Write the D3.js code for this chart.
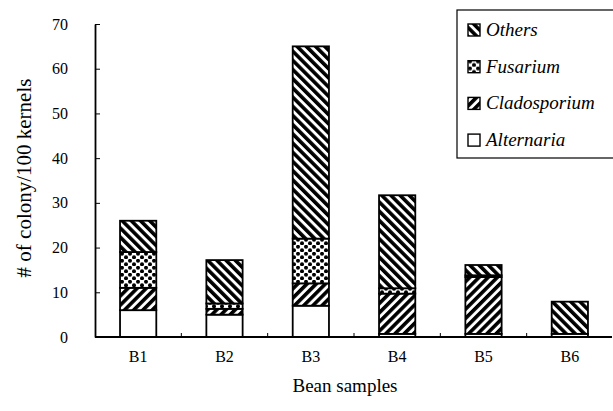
<!DOCTYPE html>
<html>
<head>
<meta charset="utf-8">
<script src="https://cdn.jsdelivr.net/npm/d3@7"></script>
<style>
  body { margin: 0; background: #fff; }
</style>
</head>
<body>
<div id="chart"></div>
<script>
// data (colonies per 100 kernels)
var samples = ["B1", "B2", "B3", "B4", "B5", "B6"];
var alternaria   = [6, 5, 7, 0.7, 0.7, 0.7];
var cladosporium = [5, 1.3, 5, 9, 12.7, 0];
var fusarium     = [8, 1.2, 10, 1.2, 0.4, 0];
var others       = [7, 9.7, 43, 20.8, 2.3, 7.2];
var seriesNames  = ["Alternaria", "Cladosporium", "Fusarium", "Others"];
var legendOrder  = ["Others", "Fusarium", "Cladosporium", "Alternaria"];
var yTicks = [0, 10, 20, 30, 40, 50, 60, 70];

var width = 613, height = 411;
var serif = "'Liberation Serif', 'DejaVu Serif', serif";

var rows = samples.map(function(s, i) {
  return { sample: s, Alternaria: alternaria[i], Cladosporium: cladosporium[i],
           Fusarium: fusarium[i], Others: others[i] };
});

var svg = d3.select("#chart")
  .append("svg")
    .attr("width", width)
    .attr("height", height);

// fill patterns
var defs = svg.append("defs");

function hatch(id, angle) {
  var p = defs.append("pattern")
      .attr("id", id)
      .attr("patternUnits", "userSpaceOnUse")
      .attr("width", 6.5).attr("height", 6.5)
      .attr("patternTransform", "rotate(" + angle + ")");
  p.append("rect").attr("width", 6.5).attr("height", 6.5).attr("fill", "#fff");
  p.append("rect").attr("width", 3.6).attr("height", 6.5).attr("fill", "#000");
}
hatch("pat-others", -45);
hatch("pat-clado", 45);

var dots = defs.append("pattern")
    .attr("id", "pat-fus")
    .attr("patternUnits", "userSpaceOnUse")
    .attr("width", 8).attr("height", 7);
dots.append("rect").attr("width", 8).attr("height", 7).attr("fill", "#fff");
[[2, 1.8], [6, 5.3]].forEach(function(c) {
  dots.append("circle").attr("cx", c[0]).attr("cy", c[1]).attr("r", 2).attr("fill", "#000");
});

var fills = {
  Alternaria: "#fff",
  Cladosporium: "url(#pat-clado)",
  Fusarium: "url(#pat-fus)",
  Others: "url(#pat-others)"
};

// scales
var x = d3.scaleBand()
    .domain(samples)
    .range([95, 613])
    .paddingInner(0.58)
    .paddingOuter(0.29);

var y = d3.scaleLinear()
    .domain([0, 70])
    .range([337, 24]);

var stacked = d3.stack().keys(seriesNames)(rows);

// bars
svg.selectAll("g.layer")
  .data(stacked)
  .enter()
  .append("g")
    .attr("class", "layer")
    .attr("fill", function(d) { return fills[d.key]; })
  .selectAll("rect")
  .data(function(d) { return d.filter(function(v) { return v[1] - v[0] > 0; }); })
  .enter()
  .append("rect")
    .attr("x", function(d) { return x(d.data.sample); })
    .attr("y", function(d) { return y(d[1]); })
    .attr("width", x.bandwidth())
    .attr("height", function(d) { return y(d[0]) - y(d[1]); })
    .attr("stroke", "#000")
    .attr("stroke-width", 1.8);

// y axis, ticks pointing inward
var yAxis = svg.append("g")
    .attr("transform", "translate(95,0)")
    .call(d3.axisLeft(y).tickValues(yTicks).tickSizeInner(-5).tickSizeOuter(0).tickPadding(27));
yAxis.select(".domain").attr("stroke-width", 1.8);
yAxis.selectAll("text")
    .style("font-family", serif)
    .attr("font-size", 16)
    .attr("fill", "#000");

// x axis line and small ticks between the bars
svg.append("line")
    .attr("x1", 95).attr("x2", 612)
    .attr("y1", y(0)).attr("y2", y(0))
    .attr("stroke", "#000").attr("stroke-width", 1.8);

svg.selectAll("line.xtick")
  .data(samples.slice(1))
  .enter()
  .append("line")
    .attr("class", "xtick")
    .attr("x1", function(d) { return x(d) - x.step() * x.paddingInner() / 2; })
    .attr("x2", function(d) { return x(d) - x.step() * x.paddingInner() / 2; })
    .attr("y1", y(0)).attr("y2", y(0) - 4)
    .attr("stroke", "#000");

svg.selectAll("text.xlab")
  .data(samples)
  .enter()
  .append("text")
    .attr("class", "xlab")
    .attr("x", function(d) { return x(d) + x.bandwidth() / 2; })
    .attr("y", 362)
    .attr("text-anchor", "middle")
    .style("font-family", serif)
    .attr("font-size", 16)
    .text(function(d) { return d; });

// axis titles
svg.append("text")
    .attr("x", 345).attr("y", 392)
    .attr("text-anchor", "middle")
    .style("font-family", serif)
    .attr("font-size", 19)
    .text("Bean samples");

svg.append("text")
    .attr("transform", "translate(31,178) rotate(-90)")
    .attr("text-anchor", "middle")
    .style("font-family", serif)
    .attr("font-size", 21)
    .text("# of colony/100 kernels");

// legend
var legend = svg.append("g");
legend.append("rect")
    .attr("x", 457).attr("y", 10)
    .attr("width", 170).attr("height", 148)
    .attr("fill", "#fff")
    .attr("stroke", "#000")
    .attr("stroke-width", 1.2);

var items = legend.selectAll("g.item")
  .data(legendOrder)
  .enter()
  .append("g")
    .attr("class", "item")
    .attr("transform", function(d, i) { return "translate(468," + (30 + i * 36.7) + ")"; });

items.append("rect")
    .attr("x", 0).attr("y", -6)
    .attr("width", 12).attr("height", 12)
    .attr("fill", function(d) { return fills[d]; })
    .attr("stroke", "#000")
    .attr("stroke-width", 1.4);

items.append("text")
    .attr("x", 18).attr("y", 6)
    .style("font-family", serif)
    .attr("font-size", 19)
    .attr("font-style", "italic")
    .text(function(d) { return d; });
</script>
</body>
</html>
